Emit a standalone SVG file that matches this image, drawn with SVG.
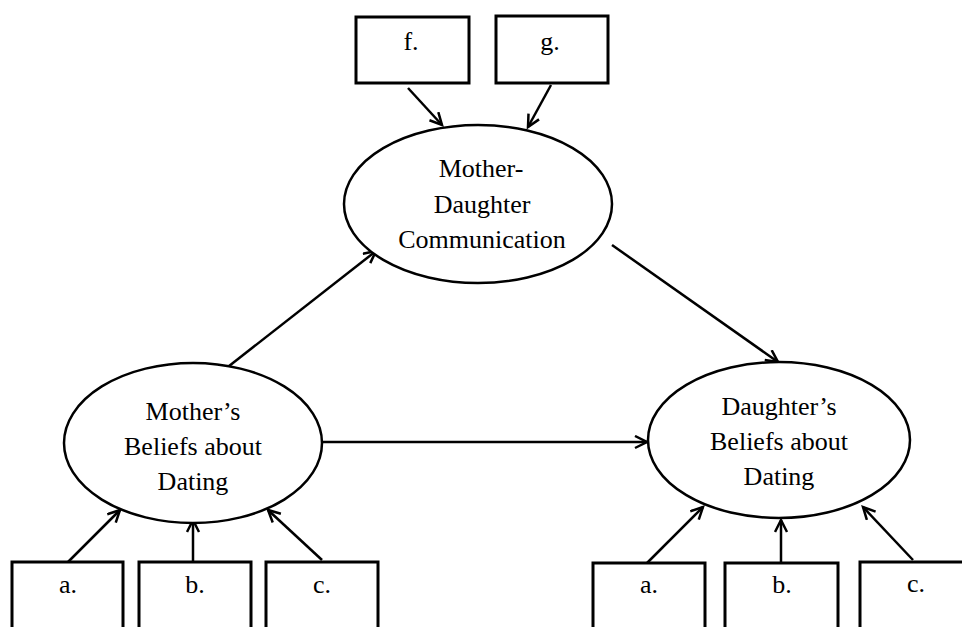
<svg xmlns="http://www.w3.org/2000/svg" width="962" height="627" viewBox="0 0 962 627">
<style>
.box{fill:#fff;stroke:#000;stroke-width:3}
.ell{fill:#fff;stroke:#000;stroke-width:2.5}
.lbl{font-family:"Liberation Serif","Times New Roman",serif;font-size:26px;fill:#000;text-anchor:middle}
.con{stroke:#000;stroke-width:2.5;fill:none;marker-end:url(#arr)}
</style>
<defs>
<marker id="arr" markerUnits="userSpaceOnUse" markerWidth="16" markerHeight="16" refX="13" refY="7" orient="auto">
<path d="M1,1 L13,7 L1,13" fill="none" stroke="#000" stroke-width="2.5"/>
</marker>
</defs>
<rect width="962" height="627" fill="#fff"/>
<g id="connectors">
<line class="con" x1="408" y1="88" x2="442" y2="125"/>
<line class="con" x1="551" y1="85" x2="528" y2="127"/>
<line class="con" x1="224" y1="370" x2="376" y2="251"/>
<line class="con" x1="612" y1="245" x2="778" y2="362"/>
<line class="con" x1="322" y1="442" x2="647" y2="442"/>
<line class="con" x1="68" y1="562" x2="120" y2="510"/>
<line class="con" x1="193" y1="562" x2="193" y2="520"/>
<line class="con" x1="322" y1="560" x2="268" y2="510"/>
<line class="con" x1="647" y1="563" x2="703" y2="507"/>
<line class="con" x1="781" y1="563" x2="781" y2="520"/>
<line class="con" x1="913" y1="560" x2="863" y2="507"/>
</g>
<g id="f"><rect class="box" x="356" y="17" width="113" height="66"/><text class="lbl" x="411" y="50">f.</text></g>
<g id="g"><rect class="box" x="496" y="16" width="112" height="67"/><text class="lbl" x="550" y="50">g.</text></g>
<g id="mdc"><ellipse class="ell" cx="478" cy="204" rx="134" ry="79"/>
<text class="lbl" x="481" y="177">Mother-</text>
<text class="lbl" x="482" y="213">Daughter</text>
<text class="lbl" x="482" y="248">Communication</text></g>
<g id="mbd"><ellipse class="ell" cx="193" cy="443" rx="129" ry="80"/>
<text class="lbl" x="193" y="420">Mother’s</text>
<text class="lbl" x="193" y="455">Beliefs about</text>
<text class="lbl" x="193" y="490">Dating</text></g>
<g id="dbd"><ellipse class="ell" cx="779" cy="440" rx="131" ry="78"/>
<text class="lbl" x="779" y="415">Daughter’s</text>
<text class="lbl" x="779" y="450">Beliefs about</text>
<text class="lbl" x="779" y="485">Dating</text></g>
<g id="ma"><rect class="box" x="12" y="562" width="111" height="80"/><text class="lbl" x="68" y="593">a.</text></g>
<g id="mb"><rect class="box" x="139" y="562" width="112" height="80"/><text class="lbl" x="195" y="593">b.</text></g>
<g id="mc"><rect class="box" x="266" y="562" width="112" height="80"/><text class="lbl" x="322" y="593">c.</text></g>
<g id="da"><rect class="box" x="593" y="563" width="112" height="80"/><text class="lbl" x="649" y="593">a.</text></g>
<g id="db"><rect class="box" x="725" y="563" width="113" height="80"/><text class="lbl" x="782" y="593">b.</text></g>
<g id="dc"><rect class="box" x="860" y="562" width="112" height="80"/><text class="lbl" x="916" y="592">c.</text></g>
</svg>
